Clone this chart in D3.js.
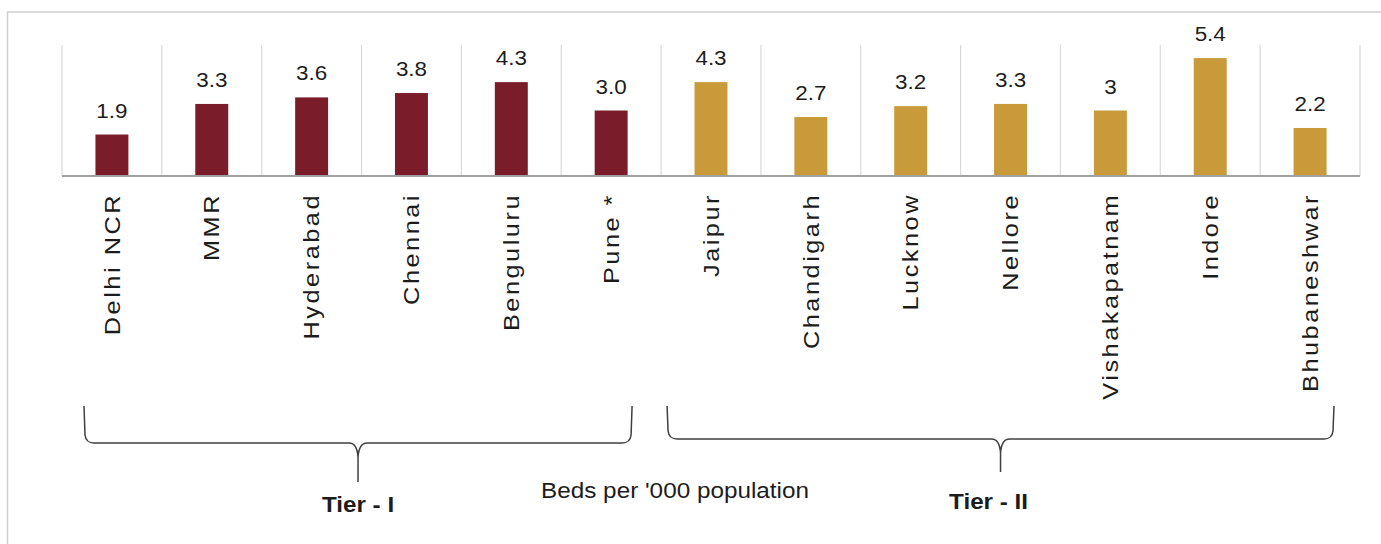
<!DOCTYPE html>
<html>
<head>
<meta charset="utf-8">
<script src="https://cdn.jsdelivr.net/npm/d3@7"></script>
<style>
  html, body { margin: 0; padding: 0; background: #fff; }
  svg { display: block; }
  text { font-family: "Liberation Sans", Arial, sans-serif; fill: #1c1c1c; }
</style>
</head>
<body>
<svg id="chart" width="1381" height="544"></svg>
<script>
// Hospital beds per thousand population, by city
const cities = ["Delhi NCR", "MMR", "Hyderabad", "Chennai", "Benguluru", "Pune *",
                "Jaipur", "Chandigarh", "Lucknow", "Nellore", "Vishakapatnam", "Indore", "Bhubaneshwar"];
const beds = [1.9, 3.3, 3.6, 3.8, 4.3, 3.0, 4.3, 2.7, 3.2, 3.3, 3, 5.4, 2.2];
const valueLabels = ["1.9", "3.3", "3.6", "3.8", "4.3", "3.0", "4.3", "2.7", "3.2", "3.3", "3", "5.4", "2.2"];
const tiers = ["Tier - I", "Tier - I", "Tier - I", "Tier - I", "Tier - I", "Tier - I",
               "Tier - II", "Tier - II", "Tier - II", "Tier - II", "Tier - II", "Tier - II", "Tier - II"];
const tierNames = ["Tier - I", "Tier - II"];
const yTicks = [0, 6];
const caption = "Beds per '000 population";

const colors = { "Tier - I": "#7b1c2a", "Tier - II": "#c89a3a" };

const svg = d3.select("#chart");

// outer frame
svg.append("rect")
  .attr("x", 7.5).attr("y", 12).attr("width", 1400).attr("height", 560)
  .attr("fill", "none").attr("stroke", "#cfcfcf").attr("stroke-width", 1.5);

const plotLeft = 62, plotRight = 1360, plotTop = 45, plotBase = 176;

const x = d3.scaleBand().domain(cities).range([plotLeft, plotRight]).padding(0);
const xBar = d3.scaleBand().domain(cities).range([plotLeft, plotRight])
  .paddingInner(0.67).paddingOuter(0.335);
const y = d3.scaleLinear().domain(d3.extent(yTicks)).range([plotBase, plotTop]);

// vertical grid separators between categories
const edges = cities.map(c => x(c)).concat([x(cities[cities.length - 1]) + x.bandwidth()]);
svg.append("g").selectAll("line").data(edges).join("line")
  .attr("x1", d => d).attr("x2", d => d)
  .attr("y1", y(6)).attr("y2", y(0))
  .attr("stroke", "#d9d9d9").attr("stroke-width", 1.2);

// bars
svg.append("g").selectAll("rect").data(cities).join("rect")
  .attr("x", c => xBar(c))
  .attr("width", xBar.bandwidth())
  .attr("y", (c, i) => y(beds[i]))
  .attr("height", (c, i) => y(0) - y(beds[i]))
  .attr("fill", (c, i) => colors[tiers[i]]);

// baseline
svg.append("line")
  .attr("x1", plotLeft).attr("x2", plotRight).attr("y1", y(0)).attr("y2", y(0))
  .attr("stroke", "#a0a0a0").attr("stroke-width", 2);

// value labels (wide-set face: stretched along the line of text)
svg.append("g").selectAll("text").data(cities).join("text")
  .attr("transform", (c, i) =>
    `translate(${x(c) + x.bandwidth() / 2},${y(beds[i]) - 17}) scale(1.15,1)`)
  .attr("text-anchor", "middle")
  .style("font-size", "19.5px")
  .text((c, i) => valueLabels[i]);

// rotated category labels, widely tracked
svg.append("g").selectAll("text").data(cities).join("text")
  .attr("transform", c =>
    `translate(${x(c) + x.bandwidth() / 2},${plotBase + 17}) rotate(-90) scale(1.15,1)`)
  .attr("text-anchor", "end")
  .attr("dy", "0.35em")
  .style("font-size", "22px")
  .style("letter-spacing", "2.2px")
  .text(c => c);

// group braces
const braceCfg = {
  "Tier - I":  { insetL: 22, insetR: 29, hy: 443, tip: 482, labelDx: 0, labelY: 512 },
  "Tier - II": { insetL: 6,  insetR: 26, hy: 439, tip: 472, labelDx: -12, labelY: 509 }
};
const braceTop = 406;

tierNames.forEach(t => {
  const members = cities.filter((c, i) => tiers[i] === t);
  const cfg = braceCfg[t];
  const x0 = x(members[0]) + cfg.insetL;
  const x1 = x(members[members.length - 1]) + x.bandwidth() - cfg.insetR;
  const xm = (x0 + x1) / 2;
  const hy = cfg.hy, r = 8;
  const p = d3.path();
  p.moveTo(x0, braceTop);
  p.lineTo(x0 + 1, hy - r);
  p.quadraticCurveTo(x0 + 2, hy, x0 + r + 2, hy);
  p.lineTo(xm - 9, hy);
  p.quadraticCurveTo(xm - 1, hy, xm, hy + 14);
  p.lineTo(xm, cfg.tip);
  p.moveTo(xm, hy + 14);
  p.quadraticCurveTo(xm + 1, hy, xm + 9, hy);
  p.lineTo(x1 - r - 2, hy);
  p.quadraticCurveTo(x1 - 2, hy, x1 - 1, hy - r);
  p.lineTo(x1, braceTop);
  svg.append("path").attr("d", p.toString())
    .attr("fill", "none").attr("stroke", "#3f3f3f").attr("stroke-width", 1.5);

  svg.append("text")
    .attr("transform", `translate(${xm + cfg.labelDx},${cfg.labelY}) scale(1.1,1)`)
    .attr("text-anchor", "middle")
    .style("font-size", "22px").style("font-weight", "bold")
    .text(t);
});

// caption
svg.append("text")
  .attr("transform", "translate(541,498) scale(1.13,1)")
  .style("font-size", "21.5px")
  .text(caption);
</script>
</body>
</html>
